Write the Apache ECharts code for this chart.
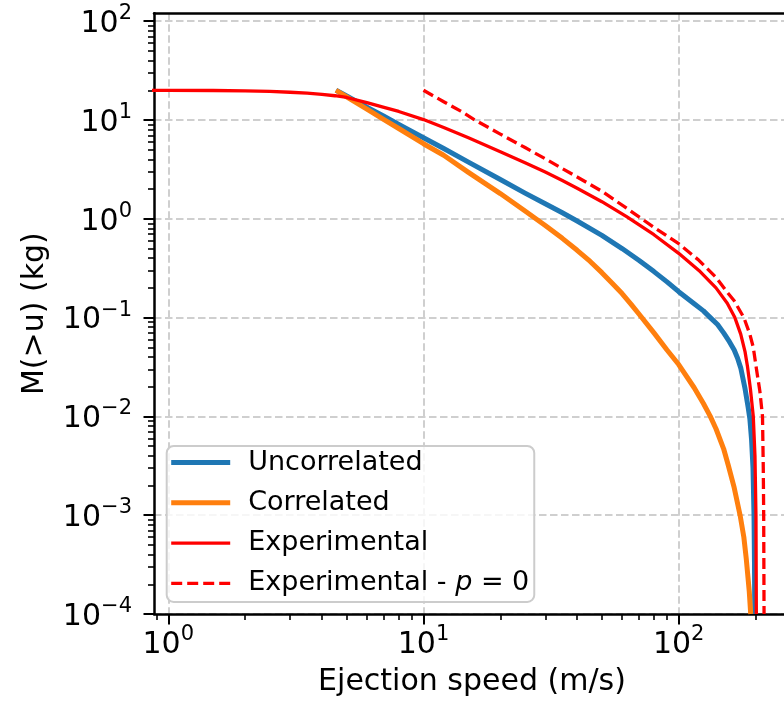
<!DOCTYPE html>
<html>
<head>
<meta charset="utf-8">
<script src="https://cdn.jsdelivr.net/npm/echarts@6/dist/echarts.min.js"></script>
<style>
  html, body { margin: 0; padding: 0; background: #ffffff; }
  #chart { width: 784px; height: 711px; }
</style>
</head>
<body>
<div id="chart"></div>
<script>
// ---- data ----
const uncorrV = [4.54, 5, 6, 7, 8, 10, 12, 15, 20, 25, 30, 35, 40, 50, 60, 70, 80, 90, 100, 115, 125, 133, 142, 150, 158, 165, 170, 175, 182, 187, 190, 193, 195.5, 197.3, 198.2, 198.6];
const uncorrM = [20, 17.5, 13.5, 10.9, 9.0, 6.6, 5.15, 3.75, 2.5, 1.82, 1.42, 1.15, 0.95, 0.68, 0.5, 0.378, 0.292, 0.23, 0.183, 0.138, 0.117, 0.1, 0.085, 0.07, 0.057, 0.047, 0.039, 0.031, 0.019, 0.0125, 0.0095, 0.0058, 0.003, 0.001, 0.0003, 0.0001];

const corrV = [4.54, 5, 6, 7, 8, 10, 12, 15, 20, 25, 30, 35, 40, 45, 50, 55, 60, 65, 70, 80, 90, 100, 115, 125, 133, 140, 150, 156.4, 165, 174, 180, 184, 189, 191.5];
const corrM = [20, 17.1, 12.9, 10.1, 8.2, 5.75, 4.4, 2.95, 1.8, 1.2, 0.857, 0.634, 0.48, 0.37, 0.285, 0.221, 0.175, 0.137, 0.108, 0.07, 0.047, 0.0335, 0.0195, 0.0135, 0.01, 0.0075, 0.0047, 0.0032, 0.0019, 0.001, 0.0006, 0.00036, 0.00017, 0.0001];

const expV = [0.85, 1, 1.5, 2, 2.5, 3, 3.5, 4, 4.5, 5, 6, 7, 8, 10, 12, 15, 20, 25, 30, 35, 40, 50, 62.5, 80, 100, 120, 140, 155, 166, 175, 182, 186, 191, 196, 199, 200.8, 201.5];
const expM = [19.95, 19.93, 19.88, 19.75, 19.5, 19.1, 18.7, 18.2, 17.6, 16.9, 15.0, 13.4, 12.2, 10.1, 8.4, 6.6, 4.78, 3.7, 2.97, 2.44, 2.04, 1.49, 1.05, 0.69, 0.447, 0.30, 0.20, 0.14, 0.1, 0.068, 0.045, 0.032, 0.019, 0.01, 0.004, 0.001, 0.0001];

const expP0V = [10, 12, 14, 15.9, 20, 25, 30, 34.3, 40, 50, 62.5, 80, 100, 120, 140, 155, 165, 180, 190, 196, 201, 208, 213, 214.5, 215.3, 216];
const expP0M = [20, 15.3, 12.3, 10, 7.2, 5.26, 4.05, 3.32, 2.65, 1.9, 1.28, 0.82, 0.56, 0.38, 0.255, 0.18, 0.148, 0.1, 0.068, 0.05, 0.032, 0.018, 0.01, 0.003, 0.001, 0.0001];

const seriesNames = ['Uncorrelated', 'Correlated', 'Experimental', 'Experimental - p = 0'];

const xMajorTicks = [1, 10, 100];
const xMinorTicks = [0.9, 2, 3, 4, 5, 6, 7, 8, 9, 20, 30, 40, 50, 60, 70, 80, 90, 200];
const yMajorTicks = [1.000001e-4, 1e-3, 1e-2, 1e-1, 1, 10, 100];
const yMinorTicks = [2e-4, 3e-4, 4e-4, 5e-4, 6e-4, 7e-4, 8e-4, 9e-4,
                     2e-3, 3e-3, 4e-3, 5e-3, 6e-3, 7e-3, 8e-3, 9e-3,
                     2e-2, 3e-2, 4e-2, 5e-2, 6e-2, 7e-2, 8e-2, 9e-2,
                     0.2, 0.3, 0.4, 0.5, 0.6, 0.7, 0.8, 0.9,
                     2, 3, 4, 5, 6, 7, 8, 9,
                     20, 30, 40, 50, 60, 70, 80, 90];

const xMin = 0.879, xMax = 258.6;
const yMin = 1e-4, yMax = 120.2;

// ---- helpers ----
function pairs(xs, ys) { return xs.map((x, i) => [x, ys[i]]); }
function powLabel(v) {
  const e = Math.round(Math.log10(v));
  const s = e < 0 ? '\u2212' + (-e) : String(e);
  return '{b|10}{s|' + s + '}';
}
const FONT = 'DejaVu Sans';
const richLabel = {
  b: { fontSize: 30, fontFamily: FONT, color: '#000', lineHeight: 36, verticalAlign: 'bottom' },
  s: { fontSize: 21, fontFamily: FONT, color: '#000', lineHeight: 21, verticalAlign: 'top' }
};
const gridLine = { show: true, lineStyle: { color: '#cfcfcf', width: 2, type: [7.5, 3.5] } };
const hiddenSymbol = { opacity: 0 };

const chart = echarts.init(document.getElementById('chart'), null, { renderer: 'canvas' });

function lineSeries(name, xs, ys, color, width, type) {
  return {
    name: name, type: 'line', data: pairs(xs, ys), showSymbol: false, symbol: 'none',
    smooth: false,
    lineStyle: { color: color, width: width, type: type || 'solid', join: 'round', cap: 'butt' },
    itemStyle: { color: color }
  };
}

const option = {
  backgroundColor: '#ffffff',
  animation: false,
  grid: { left: 154, top: 13.3, right: 0, bottom: 97, containLabel: false },
  xAxis: [
    {
      type: 'log', logBase: 10, min: xMin, max: xMax, position: 'bottom',
      name: 'Ejection speed (m/s)', nameLocation: 'middle', nameGap: 53,
      nameTextStyle: { fontFamily: FONT, fontSize: 30, color: '#000', padding: [0, 0, 0, 6] },
      axisLine: { show: true, lineStyle: { color: '#000', width: 2.5 } },
      axisTick: { show: true, customValues: xMajorTicks, length: 10.5, lineStyle: { color: '#000', width: 2 } },
      axisLabel: { show: true, customValues: xMajorTicks, margin: 10, formatter: powLabel, rich: richLabel },
      splitLine: gridLine, minorTick: { show: false }
    },
    {
      type: 'log', logBase: 10, min: xMin, max: xMax, position: 'bottom',
      axisLine: { show: false },
      axisTick: { show: true, customValues: xMinorTicks, length: 6, lineStyle: { color: '#000', width: 1.6 } },
      axisLabel: { show: false }, splitLine: { show: false }
    },
    {
      type: 'log', logBase: 10, min: xMin, max: xMax, position: 'top',
      axisLine: { show: true, lineStyle: { color: '#000', width: 2.5 } },
      axisTick: { show: false }, axisLabel: { show: false }, splitLine: { show: false }
    }
  ],
  yAxis: [
    {
      type: 'log', logBase: 10, min: yMin, max: yMax, position: 'left',
      name: 'M(>u) (kg)', nameLocation: 'middle', nameGap: 104,
      nameTextStyle: { fontFamily: FONT, fontSize: 30, color: '#000' },
      axisLine: { show: true, lineStyle: { color: '#000', width: 2.5 } },
      axisTick: { show: true, customValues: yMajorTicks, length: 10.5, lineStyle: { color: '#000', width: 2 } },
      axisLabel: { show: true, customValues: yMajorTicks, margin: 22, formatter: powLabel, rich: richLabel },
      splitLine: gridLine, minorTick: { show: false }
    },
    {
      type: 'log', logBase: 10, min: yMin, max: yMax, position: 'left',
      axisLine: { show: false },
      axisTick: { show: true, customValues: yMinorTicks, length: 6, lineStyle: { color: '#000', width: 1.6 } },
      axisLabel: { show: false }, splitLine: { show: false }
    }
  ],
  legend: {
    orient: 'vertical', left: 166.7, top: 446,
    padding: [3, 5, 5, 2],
    itemWidth: 59, itemHeight: 14, itemGap: 13.3,
    backgroundColor: 'rgba(255,255,255,0.8)',
    borderColor: '#cccccc', borderWidth: 2, borderRadius: 7,
    textStyle: { fontFamily: FONT, fontSize: 27, color: '#000', lineHeight: 27, padding: [0, 0, 0, 13],
                 rich: { i: { fontFamily: FONT, fontSize: 27, fontStyle: 'italic', color: '#000' } } },
    formatter: function (name) {
      return name === 'Experimental - p = 0' ? 'Experimental - {i|p} = 0' : name;
    },
    data: [
      { name: seriesNames[0], itemStyle: hiddenSymbol, lineStyle: { width: 5 } },
      { name: seriesNames[1], itemStyle: hiddenSymbol, lineStyle: { width: 5 } },
      { name: seriesNames[2], itemStyle: hiddenSymbol, lineStyle: { width: 3.3 } },
      { name: seriesNames[3], itemStyle: hiddenSymbol, lineStyle: { width: 3.3 } }
    ]
  },
  series: [
    lineSeries(seriesNames[0], uncorrV, uncorrM, '#1f77b4', 5),
    lineSeries(seriesNames[1], corrV, corrM, '#ff7f0e', 5),
    lineSeries(seriesNames[2], expV, expM, '#ff0000', 3.3),
    lineSeries(seriesNames[3], expP0V, expP0M, '#ff0000', 3.3, [11, 5])
  ]
};
chart.setOption(option);
</script>
</body>
</html>
